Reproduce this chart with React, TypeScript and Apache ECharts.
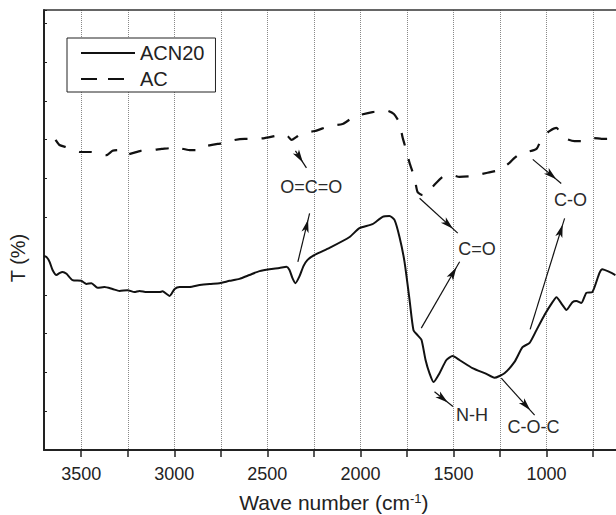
import React, { useEffect, useRef } from "react";
import * as echarts from "echarts";

const FONT = '"Liberation Sans", Arial, Helvetica, sans-serif';

// ACN20 spectrum (wave number cm-1, transmittance a.u.)
const acn20Wave = [
  3700, 3686, 3670, 3654, 3633, 3617, 3600, 3579, 3547, 3500, 3472, 3445, 3412, 3375, 3332,
  3294, 3251, 3214, 3187, 3149, 3106, 3079, 3063, 3041, 3025, 2998, 2971, 2918, 2864, 2810,
  2757, 2703, 2650, 2596, 2542, 2488, 2435, 2397, 2381, 2365, 2349, 2327, 2306, 2284, 2246,
  2166, 2058, 2005, 1935, 1881, 1844, 1817, 1790, 1763, 1736, 1715, 1693, 1672, 1650, 1629,
  1607, 1575, 1538, 1505, 1468, 1398, 1323, 1280, 1226, 1172, 1129, 1091, 1054, 1011, 968,
  947, 915, 893, 861, 840, 813, 786, 754, 716, 700, 662, 630,
];
const acn20T = [
  50.0, 49.7, 48.5, 46.4, 45.1, 45.6, 45.9, 45.4, 43.8, 43.6, 42.8, 43.0, 41.8, 42.0, 41.5,
  41.0, 41.2, 40.7, 41.0, 40.7, 40.7, 40.7, 40.9, 40.2, 39.7, 41.5, 42.0, 42.0, 42.5, 42.8,
  43.0, 43.6, 44.1, 45.1, 46.1, 46.6, 46.9, 47.2, 46.4, 44.3, 43.0, 44.8, 47.4, 49.0, 50.3,
  52.1, 54.9, 57.2, 58.2, 60.1, 60.3, 59.3, 54.9, 48.5, 38.7, 30.9, 29.6, 28.4, 23.2, 19.8,
  17.5, 19.8, 23.2, 24.2, 23.2, 21.1, 19.6, 18.6, 19.8, 22.7, 26.5, 27.6, 30.9, 34.8, 38.1,
  39.4, 37.4, 36.1, 38.1, 38.4, 37.9, 40.5, 40.7, 45.6, 46.6, 45.9, 45.1,
];

// AC spectrum
const acWave = [
  3638, 3617, 3584, 3547, 3509, 3472, 3445, 3402, 3364, 3332, 3305, 3267, 3224, 3181, 3117,
  3068, 3025, 3004, 2971, 2918, 2880, 2821, 2767, 2730, 2676, 2622, 2579, 2515, 2461, 2418,
  2391, 2370, 2343, 2311, 2246, 2166, 2096, 2053, 2005, 1935, 1860, 1820, 1790, 1774, 1754,
  1736, 1709, 1693, 1666, 1639, 1613, 1559, 1511, 1468, 1398, 1323, 1253, 1199, 1172, 1139,
  1107, 1054, 1022, 984, 947, 920, 893, 850, 807, 770, 743, 705, 662, 630,
];
const acT = [
  79.9, 78.6, 78.1, 77.6, 76.8, 76.8, 76.8, 76.3, 76.0, 77.1, 77.3, 76.0, 76.5, 77.1, 77.3,
  77.6, 77.8, 78.1, 77.8, 77.3, 77.3, 78.4, 78.9, 79.1, 79.9, 80.2, 80.2, 80.4, 80.9, 81.2,
  80.9, 79.9, 80.7, 81.7, 82.2, 83.5, 84.0, 85.3, 86.3, 87.1, 87.5, 86.6, 84.3, 80.7, 77.3,
  74.0, 70.1, 66.5, 65.7, 66.5, 67.8, 70.4, 70.9, 70.4, 70.6, 71.4, 72.2, 74.0, 75.3, 76.5,
  76.8, 77.6, 80.7, 82.2, 83.0, 81.4, 80.2, 79.6, 79.6, 80.4, 80.4, 80.2, 80.2, 78.9,
];

// Band annotations
const annotationLabels = ["O=C=O", "C=O", "C-O", "N-H", "C-O-C"];
const labelWave = [2264, 1373, 871, 1400, 1070];
const labelT = [67.8, 51.8, 64.4, 9.0, 5.9];

// Arrows (from -> tip)
const arrowFromWave = [2349, 2336, 1682, 1673, 1074, 1088, 1602, 1243];
const arrowFromT = [77.1, 48.5, 64.9, 31.4, 74.9, 31.1, 15.0, 18.5];
const arrowToWave = [2290, 2273, 1477, 1467, 921, 903, 1503, 1064];
const arrowToT = [72.7, 61.0, 55.9, 48.5, 68.7, 59.7, 11.2, 9.0];

// Tick labels shown on the wave-number axis
const xTickLabels = [3500, 3000, 2500, 2000, 1500, 1000];

const seriesNames = ["ACN20", "AC"];
const yTitle = "T (%)";

export default function App() {
  const ref = useRef<HTMLDivElement | null>(null);

  useEffect(() => {
    if (!ref.current) return;
    const chart = echarts.init(ref.current, undefined, { renderer: "svg" });

    const axisColor = "#222";
    const arrowLen = 13;
    const option: any = {
      animation: false,
      backgroundColor: "#fff",
      textStyle: { fontFamily: FONT },
      grid: {
        left: 44,
        top: 10,
        bottom: 65,
        right: -23.6,
        containLabel: false,
        outerBoundsMode: "none",
      },
      graphic: [
        {
          type: "text",
          x: 18,
          y: 258,
          rotation: Math.PI / 2,
          silent: true,
          style: {
            text: yTitle,
            fill: axisColor,
            font: `20px ${FONT}`,
            align: "center",
            verticalAlign: "middle",
          },
        },
      ],
      legend: {
        orient: "vertical",
        left: 67,
        top: 38,
        padding: [5, 11, 3, 13],
        itemGap: 6,
        itemWidth: 54,
        itemHeight: 20,
        backgroundColor: "#fff",
        borderColor: axisColor,
        borderWidth: 1,
        borderRadius: 0,
        selectedMode: false,
        itemStyle: { color: "transparent", borderWidth: 0, opacity: 0 },
        textStyle: { fontSize: 20, color: axisColor, fontFamily: FONT },
        data: [
          {
            name: seriesNames[0],
            itemStyle: { color: "transparent", borderWidth: 0, opacity: 0 },
            lineStyle: { color: "#111", width: 2, type: "solid", opacity: 1 },
          },
          {
            name: seriesNames[1],
            itemStyle: { color: "transparent", borderWidth: 0, opacity: 0 },
            lineStyle: { color: "#111", width: 2, type: [16, 11], opacity: 1 },
          },
        ],
      },
      xAxis: [
        {
          type: "value",
          min: 500,
          max: 3700,
          interval: 250,
          inverse: true,
          position: "bottom",
          name: "Wave number (cm{sup|-1})",
          nameLocation: "middle",
          nameGap: 42,
          nameTextStyle: {
            fontSize: 21,
            color: axisColor,
            fontFamily: FONT,
            padding: [0, 16, 0, 0],
            rich: {
              sup: { fontSize: 13, verticalAlign: "top", color: axisColor, fontFamily: FONT },
            },
          },
          axisLine: { show: true, onZero: false, lineStyle: { color: axisColor, width: 2 } },
          axisTick: { show: true, inside: false, length: 7, lineStyle: { color: axisColor, width: 1.5 } },
          axisLabel: {
            margin: 15,
            fontSize: 18,
            color: axisColor,
            fontFamily: FONT,
            showMinLabel: false,
            showMaxLabel: false,
            formatter: (v: number) => (xTickLabels.indexOf(v) >= 0 ? String(v) : ""),
          },
          splitLine: { show: true, lineStyle: { color: "#888", type: "dotted", width: 1 } },
        },
        {
          type: "value",
          min: 500,
          max: 3700,
          inverse: true,
          position: "top",
          axisLine: { show: true, onZero: false, lineStyle: { color: "#333", width: 1.5 } },
          axisTick: { show: false },
          axisLabel: { show: false },
          splitLine: { show: false },
        },
      ],
      yAxis: {
        type: "value",
        min: 0,
        max: 113.4,
        interval: 10,
        axisLine: { show: true, onZero: false, lineStyle: { color: axisColor, width: 2 } },
        axisTick: { show: true, inside: true, length: 3, lineStyle: { color: axisColor } },
        axisLabel: { show: false },
        splitLine: { show: false },
      },
      series: [
        {
          name: seriesNames[0],
          type: "line",
          data: acn20Wave.map((w, i) => [w, acn20T[i]]),
          symbol: "none",
          showSymbol: false,
          smooth: 0.2,
          itemStyle: { color: "#111" },
          lineStyle: { color: "#111", width: 2 },
          z: 3,
        },
        {
          name: seriesNames[1],
          type: "line",
          data: acWave.map((w, i) => [w, acT[i]]),
          symbol: "none",
          showSymbol: false,
          smooth: 0.2,
          itemStyle: { color: "#111" },
          lineStyle: { color: "#111", width: 2.2, type: [13, 14] },
          z: 3,
        },
        {
          name: "bands",
          type: "scatter",
          silent: true,
          symbolSize: 1,
          itemStyle: { color: "transparent", opacity: 1 },
          data: annotationLabels.map((n, i) => ({ name: n, value: [labelWave[i], labelT[i]] })),
          label: {
            show: true,
            position: "inside",
            formatter: "{b}",
            fontSize: 18,
            color: "#2a2a2a",
            opacity: 1,
            fontFamily: FONT,
          },
          markLine: {
            silent: true,
            symbol: ["none", "arrow"],
            label: { show: false },
            emphasis: { disabled: true },
            lineStyle: { color: "#111", width: 1.2, type: "solid", opacity: 1 },
            itemStyle: { color: "#111" },
            data: arrowFromWave.map((w, i) => [
              { coord: [w, arrowFromT[i]], symbol: "none" },
              {
                coord: [arrowToWave[i], arrowToT[i]],
                symbol: "arrow",
                symbolSize: [5.5, arrowLen],
                symbolOffset: [0, arrowLen / 2],
              },
            ]),
          },
        },
      ],
    };

    chart.setOption(option);
    return () => chart.dispose();
  }, []);

  return (
    <div
      ref={ref}
      style={{ position: "fixed", left: 0, top: 0, width: 616, height: 515, background: "#fff" }}
    />
  );
}
